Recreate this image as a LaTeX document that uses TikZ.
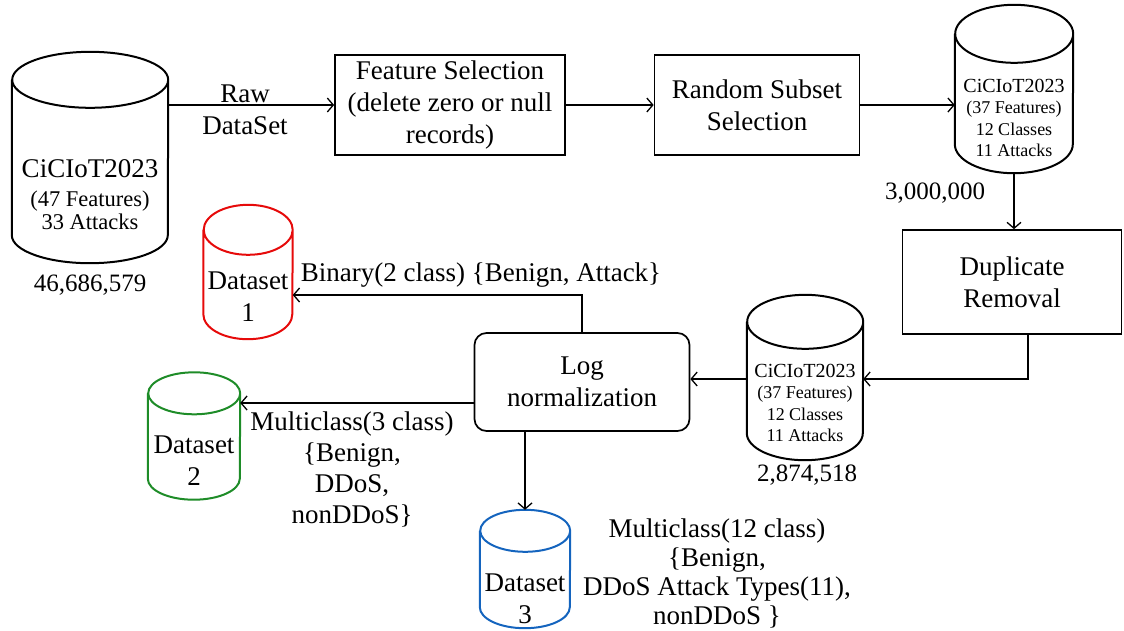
\documentclass[tikz,border=0pt]{standalone}
\usepackage{fontspec}
\setmainfont{Liberation Serif}
\usetikzlibrary{arrows.meta}

\definecolor{dsred}{RGB}{230,10,10}
\definecolor{dsgreen}{RGB}{30,140,40}
\definecolor{dsblue}{RGB}{20,100,190}

\newcommand{\bigtxt}{\fontsize{27}{32}\selectfont}
\newcommand{\smalltxt}{\fontsize{18}{21.5}\selectfont}
% data store: [colour]{name}{centre}{width}{height}{ellipse radius}
\newcommand{\datastore}[6][black]{%
  \node[store, minimum width=#4pt, minimum height=#5pt] (#2) at (#3) {};
  \draw[storeline, draw=#1] ([yshift=-#6pt]#2.north west) -- ([yshift=#6pt]#2.south west)
    arc[start angle=180, end angle=360, x radius=#4pt/2, y radius=#6pt]
    -- ([yshift=-#6pt]#2.north east)
    arc[start angle=0, end angle=180, x radius=#4pt/2, y radius=#6pt]
    arc[start angle=180, end angle=360, x radius=#4pt/2, y radius=#6pt];
}

\begin{document}
\begin{tikzpicture}[x=1pt,y=-1pt]
                \tikzset{store/.style = {shape=rectangle, inner sep=0pt}}
                \tikzset{storeline/.style = {line width=2pt}}
                \tikzset{stage/.style = {shape=rectangle, draw, line width=1.7pt, align=center, font=\bigtxt}}
                \tikzset{edge/.style = {-{Straight Barb[length=6pt,width=14pt]}, line width=1.3pt}}
                \tikzset{lbl/.style = {align=center, font=\bigtxt}}
                \useasboundingbox (0,0) rectangle (1124,630);
                % data stores
                \datastore{raw}{90,157.5}{156}{211}{28}
                \datastore{sub}{1014,89}{118}{168}{29}
                \datastore{clean}{805,377.5}{116}{165}{27}
                \datastore[dsred]{ds1}{248,272}{89}{134}{25}
                \datastore[dsgreen]{ds2}{194,436}{92}{127}{21}
                \datastore[dsblue]{ds3}{525,569}{90}{118}{21}
                \node[lbl, font=\fontsize{22.5}{23}\selectfont] (raw-txt) at (90,195) {{\fontsize{27}{29}\selectfont CiCIoT2023}\\[6pt](47 Features)\\33 Attacks};
                \node[lbl, font=\smalltxt] (sub-txt) at (1014,118) {{\fontsize{20}{21.5}\selectfont CiCIoT2023}\\(37 Features)\\12 Classes\\11 Attacks};
                \node[lbl, font=\smalltxt] (clean-txt) at (805,403) {{\fontsize{20}{21.5}\selectfont CiCIoT2023}\\(37 Features)\\12 Classes\\11 Attacks};
                \node[lbl] (ds1-txt) at (248,297) {Dataset\\1};
                \node[lbl] (ds2-txt) at (194,461) {Dataset\\2};
                \node[lbl] (ds3-txt) at (525,599) {Dataset\\3};
                % steps
                \node[stage, minimum width=230pt, minimum height=100pt] (fsel) at (450,105) {Feature Selection\\(delete zero or null\\records)};
                \node[stage, minimum width=205pt, minimum height=100pt] (rss) at (757,105) {Random Subset\\Selection};
                \node[stage, minimum width=219pt, minimum height=104pt] (dup) at (1012,282) {Duplicate\\Removal};
                \node[stage, rounded corners=12pt, minimum width=215pt, minimum height=98pt] (lognorm) at (582,382) {Log\\normalization};
                % counts and labels
                \node[lbl, font=\fontsize{25}{30}\selectfont] (n0) at (90,285) {46,686,579};
                \node[lbl, font=\fontsize{25}{30}\selectfont] (n1) at (935,193) {3,000,000};
                \node[lbl, font=\fontsize{25}{30}\selectfont] (n2) at (807,475) {2,874,518};
                \node[lbl] (rawlbl) at (245,110) {Raw\\DataSet};
                \node[lbl] (binlbl) at (481,275) {Binary(2 class) \{Benign, Attack\}};
                \node[lbl, font=\fontsize{27}{31}\selectfont] (mc3lbl) at (352,469) {Multiclass(3 class)\\\{Benign,\\DDoS,\\nonDDoS\}};
                \node[lbl, font=\fontsize{27}{29}\selectfont] (mc12lbl) at (717,573) {Multiclass(12 class)\\\{Benign,\\DDoS Attack Types(11),\\nonDDoS \}};
                % edges
                \draw[edge] (raw.east |- fsel.west) -- (fsel.west);
                \draw[edge] (fsel.east) -- (rss.west);
                \draw[edge] (rss.east) -- (rss.east -| sub.west);
                \draw[edge] (sub.south) -- (sub.south |- dup.north);
                \draw[edge] ([xshift=16pt]dup.south) |- ([yshift=-1.5pt]clean.east);
                \draw[edge] ([yshift=-1.5pt]clean.west) -- ([yshift=-1.5pt]clean.west -| lognorm.east);
                \draw[edge] (lognorm.north) |- ([yshift=-23pt]ds1.east);
                \draw[edge] ([yshift=-21pt]lognorm.west) -- ([yshift=-21pt]lognorm.west -| ds2.east);
                \draw[edge] (lognorm.south -| ds3.north) -- (ds3.north);
\end{tikzpicture}
\end{document}
